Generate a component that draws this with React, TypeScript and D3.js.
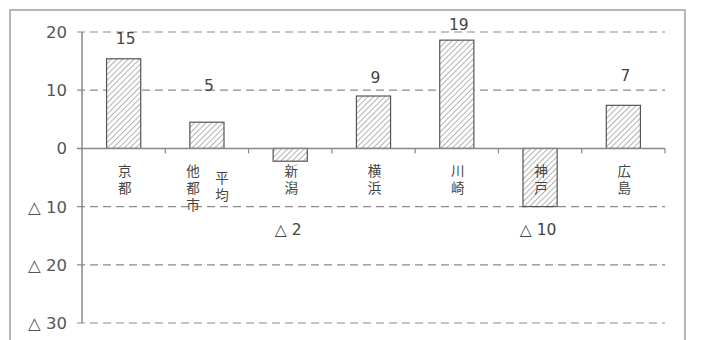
import React from "react";
import * as d3 from "d3";

// Change by city (points); negative values are shown with a triangle prefix
const categories = ["京都", "他都市平均", "新潟", "横浜", "川崎", "神戸", "広島"];
const categoryColumns = [["京都"], ["他都市", "平均"], ["新潟"], ["横浜"], ["川崎"], ["神戸"], ["広島"]];
const values = [15.4, 4.5, -2.2, 9.0, 18.6, -10.0, 7.4];
// level (in axis units) at which each value label sits
const labelLevels = [18.9, 10.8, -13.9, 12.2, 21.3, -13.9, 12.5];
const yTicks = [20, 10, 0, -10, -20, -30];

const W = 703;
const H = 340;
const plot = { left: 82, right: 665, top: 32, bottom: 323 };

const fmt = (v: number) => (v < 0 ? `△ ${Math.abs(v)}` : `${v}`);

export default function App() {
  const x = d3.scaleBand<string>().domain(categories).range([plot.left, plot.right]).paddingInner(0).paddingOuter(0);
  const y = d3.scaleLinear().domain([-30, 20]).range([plot.bottom, plot.top]);
  const bw = x.bandwidth() * 0.41;
  const textFont = "'Noto Sans CJK JP', 'Noto Sans', sans-serif";
  const numFont = "'DejaVu Sans', 'Noto Sans', sans-serif";
  const ink = "#444";
  const catSize = 13.5;

  return (
    <svg width={W} height={H} style={{ position: "absolute", left: 0, top: 0, background: "#fff" }}>
      <defs>
        <pattern id="hatch" patternUnits="userSpaceOnUse" width={4} height={4} patternTransform="rotate(45)">
          <rect width={4} height={4} fill="#fff" />
          <line x1={0} y1={0} x2={0} y2={4} stroke="#8a8a8a" strokeWidth={1.3} />
        </pattern>
      </defs>
      {/* frame */}
      <rect x={10} y={10} width={675} height={345} fill="none" stroke="#a0a0a0" strokeWidth={1.5} />

      {/* dashed grid lines (skip zero, which is the axis) */}
      {yTicks.filter((t) => t !== 0).map((t) => (
        <line key={t} x1={plot.left - 5} x2={plot.right} y1={y(t)} y2={y(t)} stroke="#8c8c8c" strokeWidth={1.2} strokeDasharray="8 5" />
      ))}

      {/* y tick labels */}
      {yTicks.map((t) => (
        <text key={t} x={plot.left - 15} y={y(t)} dy="0.36em" textAnchor="end" fontFamily={numFont} fontSize={16.5} fill="#555">
          {fmt(t)}
        </text>
      ))}

      {/* bars */}
      {values.map((v, i) => {
        const cx = (x(categories[i]) as number) + x.bandwidth() / 2;
        const y0 = y(Math.max(0, v));
        const y1 = y(Math.min(0, v));
        return (
          <rect key={i} x={cx - bw / 2} y={y0} width={bw} height={y1 - y0} fill="url(#hatch)" stroke="#555" strokeWidth={1.2} />
        );
      })}

      {/* y axis */}
      <line x1={plot.left} x2={plot.left} y1={plot.top} y2={plot.bottom} stroke="#888" strokeWidth={1.5} />
      {/* x axis with band ticks */}
      <line x1={plot.left - 5} x2={plot.right} y1={y(0)} y2={y(0)} stroke="#888" strokeWidth={1.5} />
      {categories.map((c) => {
        const xe = (x(c) as number) + x.bandwidth();
        return <line key={c} x1={xe} x2={xe} y1={y(0)} y2={y(0) + 5} stroke="#888" strokeWidth={1.2} />;
      })}

      {/* category labels, set in vertical writing */}
      {categoryColumns.map((cols, i) => {
        const cx = (x(categories[i]) as number) + x.bandwidth() / 2;
        return cols.map((col, j) => {
          const colX = cols.length === 1 ? cx + 1 : cx + (j === 0 ? -14 : 15);
          const top = 164 + (j === 0 ? 0 : 7);
          return (
            <text
              key={`${i}-${j}`}
              x={colX}
              y={top}
              fontFamily={textFont}
              fontSize={catSize}
              fill={ink}
              style={{ writingMode: "vertical-rl", textOrientation: "upright", letterSpacing: "3.5px" }}
            >
              {col}
            </text>
          );
        });
      })}

      {/* value labels */}
      {values.map((v, i) => {
        const cx = (x(categories[i]) as number) + x.bandwidth() / 2;
        return (
          <text key={i} x={cx + (v < 0 ? -2 : 2)} y={y(labelLevels[i])} dy="0.36em" textAnchor="middle" fontFamily={numFont} fontSize={15.5} fill={ink}>
            {fmt(Math.round(v))}
          </text>
        );
      })}
    </svg>
  );
}
